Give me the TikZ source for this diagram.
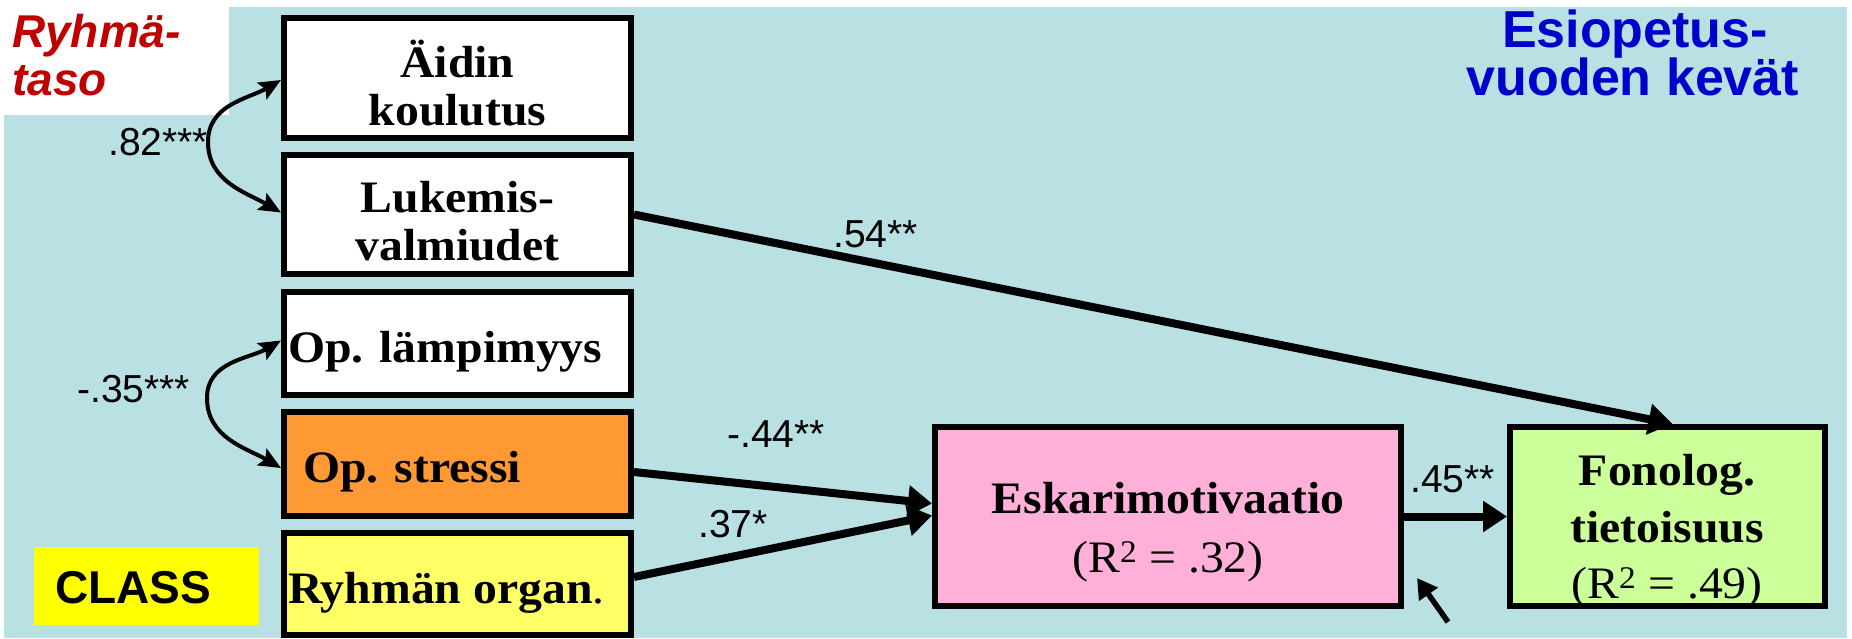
\documentclass[tikz,border=0pt]{standalone}
\usepackage{fontspec}
\setmainfont{Liberation Serif}
\newfontfamily\boxfont[FakeStretch=1.06]{Liberation Serif}
\newfontfamily\lblfont{Liberation Sans}
\usetikzlibrary{arrows.meta,calc}
\definecolor{bgblue}{RGB}{185,224,227}
\definecolor{stressorange}{RGB}{255,153,51}
\definecolor{orgyellow}{RGB}{255,255,102}
\definecolor{classyellow}{RGB}{255,255,0}
\definecolor{motpink}{RGB}{255,176,216}
\definecolor{fongreen}{RGB}{204,255,153}
\definecolor{levelred}{RGB}{192,0,0}
\definecolor{timeblue}{RGB}{0,0,204}
\tikzset{
  box/.style={draw=black, line width=6pt, rectangle, inner sep=0pt},
  leftbox/.style={box, minimum width=347pt},
  btext/.style={font=\boxfont\bfseries\fontsize{45}{48}\selectfont, inner sep=0pt, anchor=base},
  rtext/.style={font=\boxfont\fontsize{45}{48}\selectfont, inner sep=0pt, anchor=base},
  lbl/.style={font=\lblfont\fontsize{39}{44}\selectfont, inner sep=0pt, anchor=base west},
  fat/.style={line width=8pt, -{Triangle[length=24pt,width=30pt]}},
  corr/.style={line width=4pt, {Stealth[length=22pt,width=19pt,inset=4pt]}-{Stealth[length=22pt,width=19pt,inset=4pt]}},
  small/.style={line width=5.5pt, -{Triangle[length=20pt,width=22pt]}},
  title/.style={font=\lblfont\bfseries\fontsize{52}{48}\selectfont, text=timeblue, inner sep=0pt, anchor=base},
  level/.style={font=\lblfont\bfseries\itshape\fontsize{46}{42}\selectfont, inner sep=0pt, anchor=base west}
}
\begin{document}
\begin{tikzpicture}[x=1pt,y=-1pt]
\useasboundingbox (0,0) rectangle (1852,638);
% background
\fill[white] (0,0) rectangle (1852,638);
\fill[bgblue] (4,7) rectangle (1847,638);
\fill[white] (0,0) rectangle (229,115);

% level label
\node[level, text=levelred] (lvlA) at (12,47) {Ryhmä-};
\node[level, text=levelred] (lvlB) at (12,95) {taso};

% time label
\node[title] (timeA) at (1635,47) {Esiopetus-};
\node[title] (timeB) at (1633,95) {vuoden kevät};

% CLASS
\node[fill=classyellow, minimum width=225pt, minimum height=78pt, inner sep=0pt] (classbox) at (146.5,586) {};
\node[font=\lblfont\bfseries\fontsize{46}{48}\selectfont, inner sep=0pt, anchor=base west] (classtxt) at (55,603) {CLASS};

% left column boxes
\node[leftbox, fill=white, minimum height=120pt] (Aidin) at (457.5,78) {};
\node[leftbox, fill=white, minimum height=119pt] (Luk) at (457.5,214.5) {};
\node[leftbox, fill=white, minimum height=103pt] (Lamp) at (457.5,343.5) {};
\node[leftbox, fill=stressorange, minimum height=104pt] (Stress) at (457.5,464) {};
\node[leftbox, fill=orgyellow, minimum height=102pt] (Org) at (457.5,584) {};

% right boxes
\node[box, fill=motpink, minimum width=466pt, minimum height=179pt] (Esk) at (1168,516.5) {};
\node[box, fill=fongreen, minimum width=315pt, minimum height=179pt] (Fon) at (1667.5,516.5) {};

% box texts
\node[btext] (tA1) at (457.5,77) {Äidin};
\node[btext] (tA2) at (457.5,125) {koulutus};
\node[btext] (tL1) at (457.5,212) {Lukemis-};
\node[btext] (tL2) at (457.5,260) {valmiudet};
\node[btext, anchor=base west] (tOL) at (288,362) {Op. lämpimyys};
\node[btext, anchor=base west] (tOS) at (303,482) {Op. stressi};
\node[btext, anchor=base west] (tRO) at (288,603) {Ryhmän organ{\mdseries.}};
\node[btext] (tE1) at (1168,513) {Eskarimotivaatio};
\node[rtext] (tE2) at (1168,572) {(R\textsuperscript{2} = .32)};
\node[btext] (tF1) at (1667,485) {Fonolog.};
\node[btext] (tF2) at (1667,542) {tietoisuus};
\node[rtext] (tF3) at (1667,598) {(R\textsuperscript{2} = .49)};

% correlations
\coordinate (vA) at (208,142);
\coordinate (vB) at (207,398);
\draw[corr] ($(Aidin.west)+(0,2)$) to[out=210,in=90] (vA) to[out=-90,in=150] ($(Luk.west)+(0,-2)$);
\draw[corr] ($(Lamp.west)+(0,-3)$) to[out=210,in=90] (vB) to[out=-90,in=150] ($(Stress.west)+(0,4)$);
\node[lbl] (r82) at (108,155) {.82***};
\node[lbl] (r35) at (77,402) {-.35***};

% paths
\draw[fat] (Luk.east) -- ($(Fon.north)+(5,0)$);
\draw[fat] ($(Stress.east)+(0,8)$) -- ($(Esk.west)+(0,-13)$);
\draw[fat] ($(Org.east)+(0,-7)$) -- ($(Esk.west)+(0,-1)$);
\draw[fat] (Esk.east) -- (Fon.west);
\node[lbl] (p54) at (833,247) {.54**};
\node[lbl] (p44) at (727,447) {-.44**};
\node[lbl] (p37) at (698,537) {.37*};
\node[lbl] (p45) at (1410,492) {.45**};

% residual arrow
\coordinate (smtail) at (1448,622);
\coordinate (smtip) at (1417,578);
\draw[small] (smtail) -- (smtip);
\end{tikzpicture}
\end{document}
